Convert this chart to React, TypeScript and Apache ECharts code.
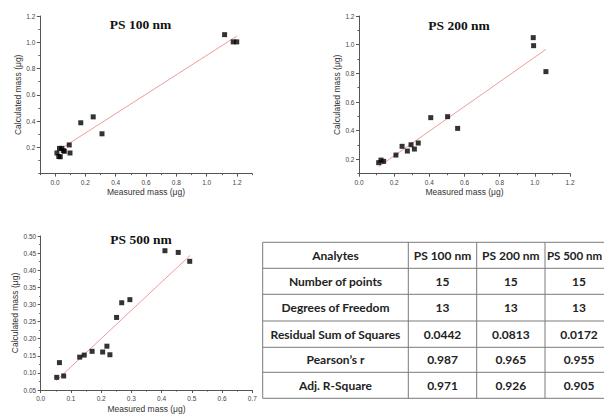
import React, { useEffect, useRef } from "react";
import * as echarts from "echarts";

// ---------- data ----------
const ps100X = [0.013, 0.025, 0.035, 0.03, 0.045, 0.055, 0.062, 0.094, 0.099, 0.17, 0.252, 0.31, 1.118, 1.175, 1.198];
const ps100Y = [0.157, 0.13, 0.128, 0.192, 0.192, 0.175, 0.17, 0.218, 0.157, 0.387, 0.432, 0.303, 1.058, 1.003, 1.003];
const ps100FitX = [0.013, 1.2];
const ps100FitY = [0.17, 1.048];

const ps200X = [0.112, 0.125, 0.14, 0.21, 0.245, 0.275, 0.296, 0.315, 0.337, 0.408, 0.504, 0.561, 0.991, 0.993, 1.063];
const ps200Y = [0.177, 0.195, 0.186, 0.23, 0.291, 0.258, 0.302, 0.272, 0.314, 0.491, 0.498, 0.416, 1.049, 0.993, 0.812];
const ps200FitX = [0.112, 1.063];
const ps200FitY = [0.149, 0.967];

const ps500X = [0.053, 0.062, 0.076, 0.129, 0.144, 0.17, 0.205, 0.219, 0.229, 0.251, 0.268, 0.295, 0.411, 0.455, 0.493];
const ps500Y = [0.087, 0.13, 0.091, 0.146, 0.152, 0.163, 0.161, 0.178, 0.153, 0.262, 0.305, 0.314, 0.457, 0.452, 0.426];
const ps500FitX = [0.051, 0.494];
const ps500FitY = [0.077, 0.443];

const chartTitles = ["PS 100 nm", "PS 200 nm", "PS 500 nm"];
const xAxisName = "Measured mass (μg)";
const yAxisName = "Calculated mass (μg)";

const ticks100X = [0.0, 0.2, 0.4, 0.6, 0.8, 1.0, 1.2];
const ticks100Y = [0.2, 0.4, 0.6, 0.8, 1.0, 1.2];
const ticks200X = [0.0, 0.2, 0.4, 0.6, 0.8, 1.0, 1.2];
const ticks200Y = [0.2, 0.4, 0.6, 0.8, 1.0, 1.2];
const ticks500X = [0.0, 0.1, 0.2, 0.3, 0.4, 0.5, 0.6, 0.7];
const ticks500Y = [0.05, 0.1, 0.15, 0.2, 0.25, 0.3, 0.35, 0.4, 0.45, 0.5];

const tableHeader = ["Analytes", "PS 100 nm", "PS 200 nm", "PS 500 nm"];
const tableRowLabels = ["Number of points", "Degrees of Freedom", "Residual Sum of Squares", "Pearson’s r", "Adj. R-Square"];
const ps100Stats = ["15", "13", "0.0442", "0.987", "0.971"];
const ps200Stats = ["15", "13", "0.0813", "0.965", "0.926"];
const ps500Stats = ["15", "13", "0.0172", "0.955", "0.905"];

// ---------- layout ----------
const AXIS_COLOR = "#555";
const LABEL_COLOR = "#444";
const PAGE_W = 604;
const grids = [
  { left: 39.8, top: 16, width: 212.4, height: 157.6 },
  { left: 359, top: 16, width: 211, height: 157.7 },
  { left: 40.7, top: 236, width: 211.6, height: 156.7 },
];
const titlePos = [
  { x: 140.5, y: 24 },
  { x: 459, y: 25 },
  { x: 141, y: 239 },
];
const colEdges = [262.7, 408.3, 476.7, 545, 613];
const rowEdges = [242.3, 268.3, 294.3, 321, 347.3, 372.3, 398.3];

function zip(xs: number[], ys: number[]) {
  return xs.map((x, i) => [x, ys[i]]);
}

function axisPair(
  dim: "x" | "y",
  gridIndex: number,
  min: number,
  max: number,
  minorStep: number,
  majors: number[],
  decimals: number,
  nameGap: number
) {
  const position = dim === "x" ? "bottom" : "left";
  const minor = {
    type: "value",
    gridIndex,
    position,
    min,
    max,
    interval: minorStep,
    axisLine: { show: true, onZero: false, lineStyle: { color: AXIS_COLOR, width: 1 } },
    axisTick: { show: true, inside: false, length: 1.5, lineStyle: { color: AXIS_COLOR, width: 1 } },
    axisLabel: { show: false },
    splitLine: { show: false },
  };
  const major = {
    type: "value",
    gridIndex,
    position,
    min,
    max,
    interval: minorStep,
    axisLine: { show: false, onZero: false },
    axisTick: {
      show: true,
      inside: false,
      length: 3,
      customValues: majors,
      lineStyle: { color: AXIS_COLOR, width: 1 },
    },
    axisLabel: {
      show: true,
      customValues: majors,
      formatter: (v: number) => v.toFixed(decimals),
      fontSize: 6.5,
      fontFamily: "Liberation Sans",
      color: LABEL_COLOR,
      margin: dim === "x" ? 5 : 4.5,
      showMinLabel: true,
      showMaxLabel: true,
    },
    splitLine: { show: false },
    name: dim === "x" ? xAxisName : yAxisName,
    nameLocation: "middle",
    nameGap,
    nameTextStyle: { fontSize: 8.5, fontFamily: "Liberation Sans", color: "#333" },
  };
  return [minor, major];
}

export default function App() {
  const ref = useRef<HTMLDivElement>(null);

  useEffect(() => {
    document.body.style.margin = "0";
    if (!ref.current) return;
    const chart = echarts.init(ref.current, undefined, { renderer: "svg" });

    const xAxes = [
      ...axisPair("x", 0, -0.1, 1.3, 0.1, ticks100X, 1, 14),
      ...axisPair("x", 1, 0, 1.2, 0.1, ticks200X, 1, 14),
      ...axisPair("x", 2, 0, 0.7, 0.05, ticks500X, 1, 14),
    ];
    const yAxes = [
      ...axisPair("y", 0, 0, 1.2, 0.1, ticks100Y, 1, 15),
      ...axisPair("y", 1, 0.1, 1.2, 0.1, ticks200Y, 1, 15),
      ...axisPair("y", 2, 0.05, 0.5, 0.025, ticks500Y, 2, 19),
    ];

    const scatters = [
      [ps100X, ps100Y, ps100FitX, ps100FitY],
      [ps200X, ps200Y, ps200FitX, ps200FitY],
      [ps500X, ps500Y, ps500FitX, ps500FitY],
    ];
    const series: any[] = [];
    scatters.forEach(([xs, ys, fx, fy], g) => {
      series.push({
        type: "line",
        xAxisIndex: g * 2 + 1,
        yAxisIndex: g * 2 + 1,
        data: zip(fx, fy),
        symbol: "none",
        lineStyle: { color: "#f39a9a", width: 1 },
        z: 2,
      });
      series.push({
        type: "scatter",
        xAxisIndex: g * 2 + 1,
        yAxisIndex: g * 2 + 1,
        data: zip(xs, ys),
        symbol: "rect",
        symbolSize: 5,
        itemStyle: { color: "#000" },
        z: 3,
      });
    });

    const graphics: any[] = [];
    chartTitles.forEach((t, i) => {
      graphics.push({
        type: "text",
        x: titlePos[i].x,
        y: titlePos[i].y,
        style: {
          text: t,
          fontFamily: "Liberation Serif",
          fontWeight: "bold",
          fontSize: 13.5,
          fill: "#111",
          textAlign: "center",
          textVerticalAlign: "middle",
        },
      });
    });

    // table
    const lineStyle = { stroke: "#7a7a7a", lineWidth: 1 };
    rowEdges.forEach((y) => {
      graphics.push({
        type: "line",
        shape: { x1: colEdges[0], y1: y, x2: colEdges[colEdges.length - 1], y2: y },
        style: lineStyle,
      });
    });
    colEdges.forEach((x) => {
      graphics.push({
        type: "line",
        shape: { x1: x, y1: rowEdges[0], x2: x, y2: rowEdges[rowEdges.length - 1] },
        style: lineStyle,
      });
    });
    const rows: string[][] = [tableHeader];
    tableRowLabels.forEach((lab, i) => {
      rows.push([lab, ps100Stats[i], ps200Stats[i], ps500Stats[i]]);
    });
    rows.forEach((row, r) => {
      row.forEach((cell, c) => {
        const isCutHeader = r === 0 && c === row.length - 1;
        graphics.push({
          type: "text",
          x: isCutHeader ? (colEdges[c] + PAGE_W) / 2 : (colEdges[c] + colEdges[c + 1]) / 2,
          y: (rowEdges[r] + rowEdges[r + 1]) / 2,
          style: {
            text: cell,
            fontFamily: "Lato",
            fontWeight: "bold",
            fontSize: isCutHeader ? 11.5 : 12,
            fill: "#222",
            textAlign: "center",
            textVerticalAlign: "middle",
          },
        });
      });
    });

    chart.setOption({
      animation: false,
      backgroundColor: "#fff",
      grid: grids.map((g) => ({ ...g, containLabel: false })),
      xAxis: xAxes,
      yAxis: yAxes,
      series,
      graphic: graphics,
    });

    return () => chart.dispose();
  }, []);

  return <div ref={ref} style={{ width: 604, height: 414 }} />;
}
